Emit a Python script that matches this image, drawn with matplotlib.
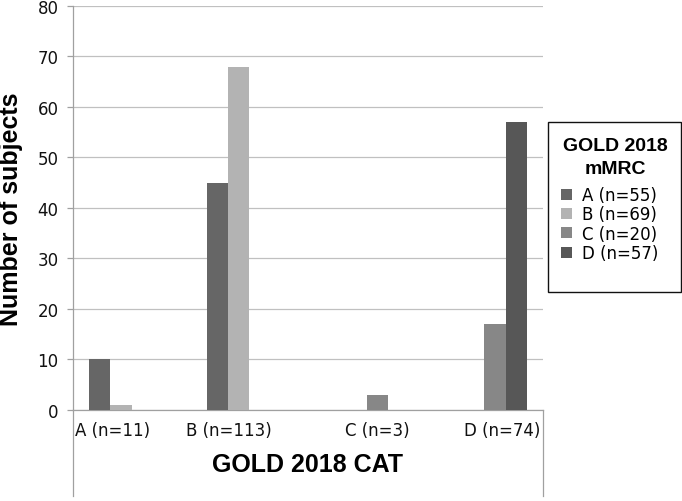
import numpy as np
import matplotlib
matplotlib.use("Agg")
import matplotlib.pyplot as plt
from matplotlib.patches import Rectangle

# ---- data ----
categories = ["A (n=11)", "B (n=113)", "C (n=3)", "D (n=74)"]
series_names = ["A (n=55)", "B (n=69)", "C (n=20)", "D (n=57)"]
series_A = [10, 45, 0, 0]
series_B = [1, 68, 0, 0]
series_C = [0, 0, 3, 17]
series_D = [0, 0, 0, 57]
y_ticks = [0, 10, 20, 30, 40, 50, 60, 70, 80]
legend_title_lines = ["GOLD 2018", "mMRC"]
x_title = "GOLD 2018 CAT"
y_title = "Number of subjects"

# ---- style / layout ----
colors = ["#666666", "#b3b3b3", "#878787", "#575757"]
label_shift = [-0.165, -0.175, 0.088, 0.155]   # hand-placed category labels
bar_w = 0.181
W, H = 682, 502

fig = plt.figure(figsize=(W / 100, H / 100), dpi=100)
ax_l, ax_r, ax_t, ax_b = 73, 543, 7, 410.7
ax = fig.add_axes([ax_l / W, 1 - ax_b / H, (ax_r - ax_l) / W, (ax_b - ax_t) / H])

x = np.arange(len(categories))
all_series = [series_A, series_B, series_C, series_D]
for i, (vals, c, name) in enumerate(zip(all_series, colors, series_names)):
    ax.bar(x + (i - 1.5) * bar_w, vals, width=bar_w, color=c, label=name,
           linewidth=0, zorder=3)

ax.set_xlim(-0.5, len(categories) - 0.5)
ax.set_ylim(0, 80)
ax.set_yticks(y_ticks)
ax.yaxis.grid(True, color="#c0c0c0", linewidth=0.9, zorder=0)
ax.set_axisbelow(True)

ax.set_xticks(x + np.array(label_shift))
ax.set_xticklabels(categories)
ax.tick_params(axis="x", length=0, pad=8, labelsize=12, labelcolor="#111111")
ax.tick_params(axis="y", length=4.5, width=0.9, color="#a0a0a0", pad=6,
               labelsize=12, labelcolor="#111111")

for s in ["top", "right"]:
    ax.spines[s].set_visible(False)
for s in ["left", "bottom"]:
    ax.spines[s].set_color("#a0a0a0")
    ax.spines[s].set_linewidth(0.9)

ext = (ax_b - 497) / (ax_b - ax_t)
ax.plot([0, 0], [0, ext], transform=ax.transAxes, color="#a0a0a0", lw=0.9, clip_on=False)
ax.plot([1, 1], [0, ext], transform=ax.transAxes, color="#a0a0a0", lw=0.9, clip_on=False)

ax.set_xlabel(x_title, fontsize=18, fontweight="bold", family="Liberation Sans",
              va="baseline")
ax.xaxis.set_label_coords(0.5, (ax_b - 472) / (ax_b - ax_t))
ax.set_ylabel(y_title, fontsize=18, fontweight="bold", family="Liberation Sans",
              va="center")
ax.yaxis.set_label_coords((11 - ax_l) / (ax_r - ax_l), 0.5)

# legend box, title and entries
fig.patches.append(Rectangle((548 / W, 1 - 293 / H), (681 - 548) / W, (293 - 123) / H,
                             transform=fig.transFigure, fill=False,
                             edgecolor="#111111", linewidth=1.0))
for line, yc in zip(legend_title_lines, [147, 170]):
    fig.text(615.5 / W, 1 - yc / H, line, ha="center", va="center",
             family="Liberation Sans", fontweight="bold", fontsize=14)
leg = fig.legend(loc="upper left", bbox_to_anchor=(561 / W, 1 - 187 / H),
                 frameon=False, fontsize=12,
                 handlelength=0.65, handleheight=0.65, handletextpad=0.6,
                 labelspacing=0.08, borderpad=0, borderaxespad=0)

fig.savefig("out.png", dpi=100)
